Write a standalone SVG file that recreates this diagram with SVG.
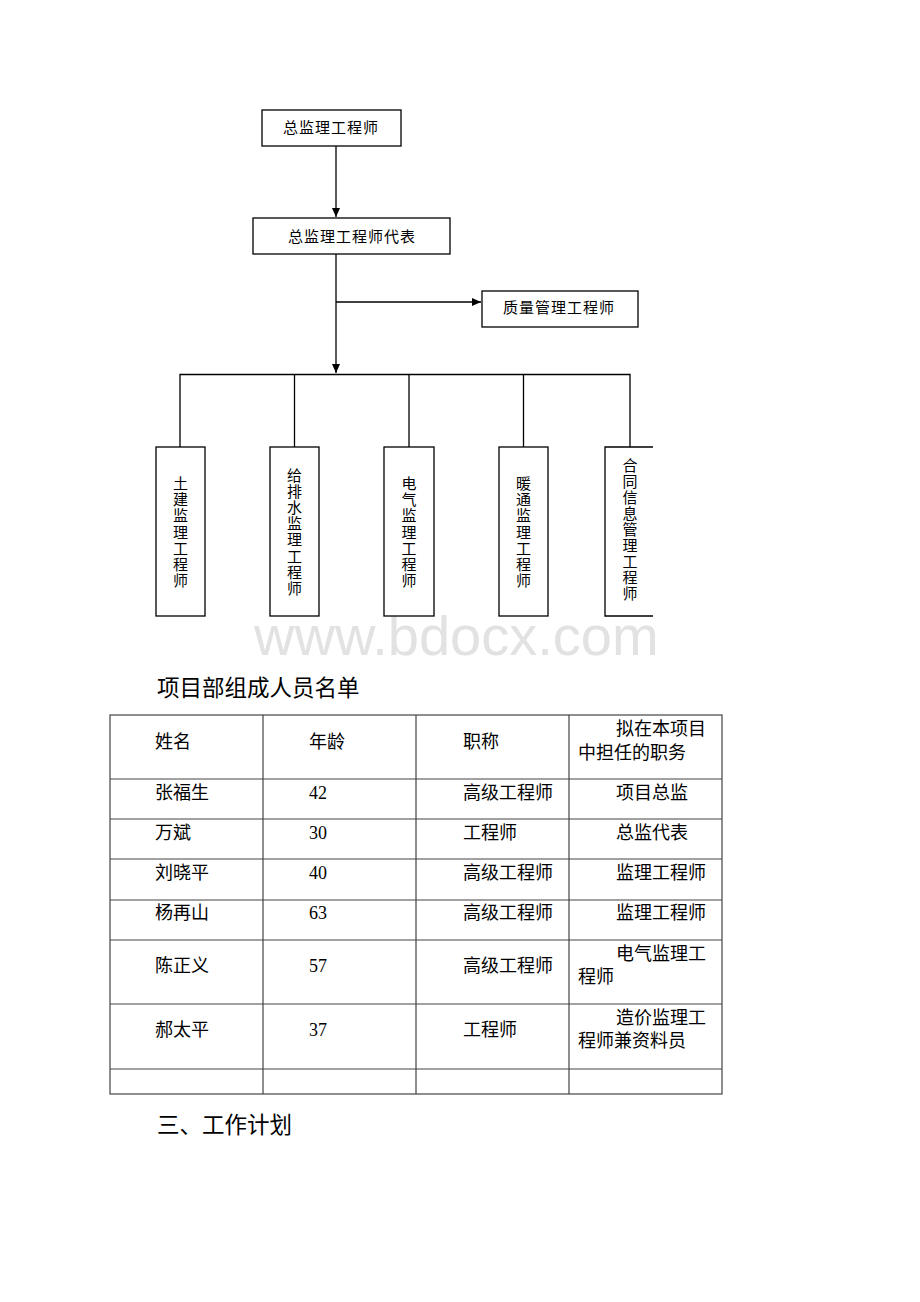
<svg xmlns="http://www.w3.org/2000/svg" width="920" height="1302" viewBox="0 0 920 1302">
<defs>
<style>
.box{fill:#fff;stroke:#000;stroke-width:1.3}
.ln{fill:none;stroke:#000;stroke-width:1.3}
.t{font-family:"Liberation Serif","Noto Sans CJK SC",serif;font-size:15px;fill:#000;dominant-baseline:central}
.vt{font-family:"Liberation Serif","Noto Sans CJK SC",serif;font-size:15px;fill:#000;text-anchor:middle}
.tb{font-family:"Liberation Serif","Noto Sans CJK SC",serif;font-size:18px;fill:#000;dominant-baseline:central}
.h{font-family:"Liberation Serif","Noto Sans CJK SC",serif;font-size:22.5px;fill:#000;dominant-baseline:central}
.grid{fill:none;stroke:#444;stroke-width:1.2}
</style>
<marker id="arr" markerWidth="10" markerHeight="10" refX="9" refY="5" orient="auto" markerUnits="userSpaceOnUse">
<path d="M0,1 L9,5 L0,9 Z" fill="#000"/>
</marker>
</defs>
<rect width="920" height="1302" fill="#fff"/>
<text x="254" y="655" font-family="Liberation Sans, Arial, sans-serif" font-size="56" fill="#e2e2e2">www.bdocx.com</text>
<g id="connectors">
<line class="ln" x1="336" y1="146" x2="336" y2="217" marker-end="url(#arr)"/>
<line class="ln" x1="336" y1="254" x2="336" y2="373" marker-end="url(#arr)"/>
<line class="ln" x1="336" y1="302" x2="481" y2="302" marker-end="url(#arr)"/>
<polyline class="ln" points="180,447 180,374.5 630,374.5 630,447"/>
<line class="ln" x1="294.5" y1="374.5" x2="294.5" y2="447"/>
<line class="ln" x1="409" y1="374.5" x2="409" y2="447"/>
<line class="ln" x1="523.5" y1="374.5" x2="523.5" y2="447"/>
</g>
<g id="n-chief">
<rect class="box" x="262" y="110" width="139" height="36"/>
<text class="t" x="283" y="128" letter-spacing="1">总监理工程师</text>
</g>
<g id="n-deputy">
<rect class="box" x="253" y="218" width="197" height="36"/>
<text class="t" x="288" y="237" letter-spacing="1">总监理工程师代表</text>
</g>
<g id="n-quality">
<rect class="box" x="482" y="291" width="156" height="36"/>
<text class="t" x="503" y="308" letter-spacing="1">质量管理工程师</text>
</g>
<g id="n-civil">
<rect class="box" x="156" y="447" width="49" height="169"/>
<text class="vt"><tspan x="180.5" y="489">土</tspan><tspan x="180.5" dy="16.2">建</tspan><tspan x="180.5" dy="16.2">监</tspan><tspan x="180.5" dy="16.2">理</tspan><tspan x="180.5" dy="16.2">工</tspan><tspan x="180.5" dy="16.2">程</tspan><tspan x="180.5" dy="16.2">师</tspan></text>
</g>
<g id="n-water">
<rect class="box" x="270" y="447" width="49" height="169"/>
<text class="vt"><tspan x="294.5" y="481">给</tspan><tspan x="294.5" dy="16.1">排</tspan><tspan x="294.5" dy="16.1">水</tspan><tspan x="294.5" dy="16.1">监</tspan><tspan x="294.5" dy="16.1">理</tspan><tspan x="294.5" dy="16.1">工</tspan><tspan x="294.5" dy="16.1">程</tspan><tspan x="294.5" dy="16.1">师</tspan></text>
</g>
<g id="n-elec">
<rect class="box" x="384" y="447" width="50" height="169"/>
<text class="vt"><tspan x="409" y="489">电</tspan><tspan x="409" dy="16.2">气</tspan><tspan x="409" dy="16.2">监</tspan><tspan x="409" dy="16.2">理</tspan><tspan x="409" dy="16.2">工</tspan><tspan x="409" dy="16.2">程</tspan><tspan x="409" dy="16.2">师</tspan></text>
</g>
<g id="n-hvac">
<rect class="box" x="499" y="447" width="49" height="169"/>
<text class="vt"><tspan x="523.5" y="489">暖</tspan><tspan x="523.5" dy="16.2">通</tspan><tspan x="523.5" dy="16.2">监</tspan><tspan x="523.5" dy="16.2">理</tspan><tspan x="523.5" dy="16.2">工</tspan><tspan x="523.5" dy="16.2">程</tspan><tspan x="523.5" dy="16.2">师</tspan></text>
</g>
<g id="n-contract">
<polyline class="ln" points="653,447 605,447 605,616 653,616"/>
<text class="vt"><tspan x="630" y="471">合</tspan><tspan x="630" dy="16">同</tspan><tspan x="630" dy="16">信</tspan><tspan x="630" dy="16">息</tspan><tspan x="630" dy="16">管</tspan><tspan x="630" dy="16">理</tspan><tspan x="630" dy="16">工</tspan><tspan x="630" dy="16">程</tspan><tspan x="630" dy="16">师</tspan></text>
</g>
<g id="heading">
<text class="h" x="157" y="688">项目部组成人员名单</text>
</g>
<g id="table">
<rect class="grid" x="110" y="715" width="612" height="379"/>
<path class="grid" d="M263,715V1094M416,715V1094M569,715V1094M110,779H722M110,819H722M110,859H722M110,900H722M110,940H722M110,1004H722M110,1069H722"/>
<text class="tb" x="155" y="742">姓名</text>
<text class="tb" x="309" y="742">年龄</text>
<text class="tb" x="463" y="742">职称</text>
<text class="tb" x="616" y="729">拟在本项目</text>
<text class="tb" x="578" y="753">中担任的职务</text>
<text class="tb" x="155" y="793">张福生</text>
<text class="tb" x="309" y="793">42</text>
<text class="tb" x="463" y="793">高级工程师</text>
<text class="tb" x="616" y="793">项目总监</text>
<text class="tb" x="155" y="833">万斌</text>
<text class="tb" x="309" y="833">30</text>
<text class="tb" x="463" y="833">工程师</text>
<text class="tb" x="616" y="833">总监代表</text>
<text class="tb" x="155" y="873">刘晓平</text>
<text class="tb" x="309" y="873">40</text>
<text class="tb" x="463" y="873">高级工程师</text>
<text class="tb" x="616" y="873">监理工程师</text>
<text class="tb" x="155" y="913">杨再山</text>
<text class="tb" x="309" y="913">63</text>
<text class="tb" x="463" y="913">高级工程师</text>
<text class="tb" x="616" y="913">监理工程师</text>
<text class="tb" x="155" y="966">陈正义</text>
<text class="tb" x="309" y="966">57</text>
<text class="tb" x="463" y="966">高级工程师</text>
<text class="tb" x="616" y="954">电气监理工</text>
<text class="tb" x="578" y="977">程师</text>
<text class="tb" x="155" y="1030">郝太平</text>
<text class="tb" x="309" y="1030">37</text>
<text class="tb" x="463" y="1030">工程师</text>
<text class="tb" x="616" y="1018">造价监理工</text>
<text class="tb" x="578" y="1041">程师兼资料员</text>
</g>
<g id="section">
<text class="h" x="157" y="1125">三、工作计划</text>
</g>
</svg>
